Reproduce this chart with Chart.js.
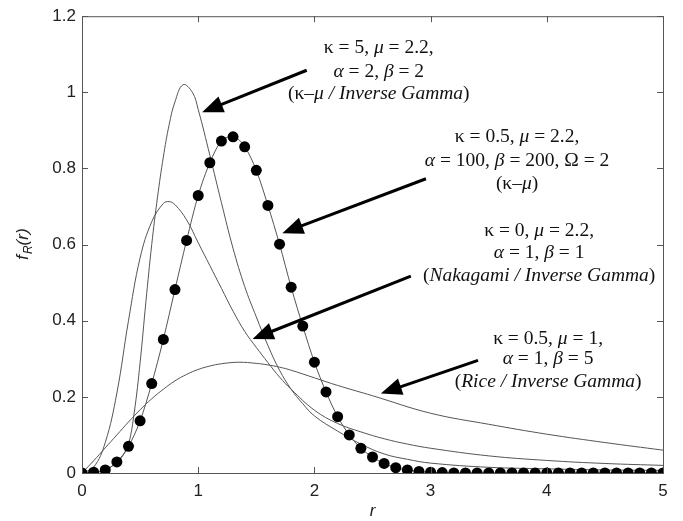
<!DOCTYPE html>
<html>
<head>
<meta charset="utf-8">
<script src="https://cdn.jsdelivr.net/npm/chart.js@4.4.1/dist/chart.umd.min.js"></script>
<style>
  html, body { margin: 0; padding: 0; background: #fff; }
  #wrap { width: 683px; height: 521px; }
</style>
</head>
<body>
<div id="wrap"><canvas id="c" width="683" height="521"></canvas></div>
<script>
// ---- data ----
var xTicks = [0, 1, 2, 3, 4, 5];
var yTicks = [0, 0.2, 0.4, 0.6, 0.8, 1, 1.2];

// kappa-mu (dots), kappa = 0.5, mu = 2.2, Omega = 2
var rDots = [0, 0.1, 0.2, 0.3, 0.4, 0.5, 0.6, 0.7, 0.8, 0.9, 1.0, 1.1, 1.2, 1.3, 1.4, 1.5, 1.6, 1.7, 1.8, 1.9,
	2.0, 2.1, 2.2, 2.3, 2.4, 2.5, 2.6, 2.7, 2.8, 2.9, 3.0, 3.1, 3.2, 3.3, 3.4, 3.5, 3.6, 3.7, 3.8, 3.9,
	4.0, 4.1, 4.2, 4.3, 4.4, 4.5, 4.6, 4.7, 4.8, 4.9, 5.0];
var fDots = [0, 0.002, 0.008, 0.029, 0.07, 0.137, 0.235, 0.351, 0.482, 0.611, 0.729, 0.815, 0.872, 0.883, 0.857, 0.795, 0.703, 0.601, 0.488, 0.386,
	0.291, 0.213, 0.148, 0.100, 0.065, 0.042, 0.025, 0.014, 0.008, 0.004, 0.002, 0.001, 0, 0, 0, 0, 0, 0, 0, 0,
	0, 0, 0, 0, 0, 0, 0, 0, 0, 0, 0];

// kappa-mu / inverse gamma, kappa = 5
var rKm = [0, 0.1, 0.2, 0.3, 0.35, 0.4, 0.45, 0.5, 0.55, 0.6, 0.65, 0.7, 0.75, 0.8, 0.87, 0.95, 1.0, 1.1, 1.2, 1.3, 1.4,
	1.5, 1.6, 1.7, 1.8, 1.9, 2.0, 2.2, 2.4, 2.6, 2.8, 3.0, 3.5, 4.0, 4.5, 5.0];
var fKm = [0, 0.001, 0.008, 0.028, 0.045, 0.075, 0.16, 0.29, 0.45, 0.6, 0.725, 0.83, 0.915, 0.975, 1.02, 1.0, 0.955, 0.835, 0.71, 0.59, 0.49,
	0.41, 0.335, 0.27, 0.22, 0.182, 0.15, 0.11, 0.076, 0.05, 0.036, 0.026, 0.015, 0.011, 0.008, 0.007];

// Nakagami / inverse gamma
var rNak = [0, 0.1, 0.2, 0.3, 0.4, 0.5, 0.6, 0.7, 0.75, 0.8, 0.9, 1.0, 1.1, 1.2, 1.3, 1.4, 1.5, 1.6, 1.7, 1.8,
	2.0, 2.2, 2.4, 2.6, 2.8, 3.0, 3.5, 4.0, 4.5, 5.0];
var fNak = [0, 0.015, 0.08, 0.21, 0.4, 0.565, 0.66, 0.708, 0.713, 0.705, 0.665, 0.605, 0.545, 0.485, 0.425, 0.372, 0.33, 0.29, 0.252, 0.22,
	0.165, 0.13, 0.108, 0.09, 0.076, 0.065, 0.045, 0.033, 0.025, 0.02];

// Rice / inverse gamma
var rRice = [0, 0.1, 0.2, 0.3, 0.4, 0.5, 0.6, 0.7, 0.8, 0.9, 1.0, 1.1, 1.2, 1.35, 1.5, 1.6, 1.7, 1.8,
	2.0, 2.2, 2.5, 3.0, 3.5, 4.0, 4.5, 5.0];
var fRice = [0, 0.032, 0.066, 0.1, 0.134, 0.166, 0.195, 0.22, 0.242, 0.259, 0.272, 0.281, 0.287, 0.291, 0.288, 0.284, 0.278, 0.27,
	0.25, 0.23, 0.203, 0.157, 0.128, 0.102, 0.08, 0.06];

// labels: *...* toggles italic; arrow goes from tail to tip (data units)
var notes = [
	{ cx: 2.554, lines: ["κ = 5, *μ* = 2.2,", "*α* = 2, *β* = 2", "(κ–*μ / Inverse Gamma*)"], ys: [1.117, 1.055, 0.995],
	  tail: [1.934, 1.058], tip: [1.034, 0.948] },
	{ cx: 3.744, lines: ["κ = 0.5, *μ* = 2.2,", "*α* = 100, *β* = 200, Ω = 2", "(κ–*μ*)"], ys: [0.883, 0.820, 0.760],
	  tail: [2.96, 0.773], tip: [1.724, 0.630] },
	{ cx: 3.934, lines: ["κ = 0, *μ* = 2.2,", "*α* = 1, *β* = 1", "(*Nakagami / Inverse Gamma*)"], ys: [0.635, 0.577, 0.517],
	  tail: [2.83, 0.517], tip: [1.468, 0.352] },
	{ cx: 4.011, lines: ["κ = 0.5, *μ* = 1,", "*α* = 1, *β* = 5", "(*Rice / Inverse Gamma*)"], ys: [0.353, 0.301, 0.239],
	  tail: [3.408, 0.296], tip: [2.572, 0.209] }
];

function pts(rs, fs) {
	return rs.map(function (r, i) { return { x: r, y: fs[i] }; });
}

function drawRich(ctx, str, cx, cy) {
	var parts = str.split('*');
	var fonts = parts.map(function (p, i) { return (i % 2 ? 'italic ' : '') + '19.5px "Liberation Serif", serif'; });
	var widths = parts.map(function (p, i) { ctx.font = fonts[i]; return ctx.measureText(p).width; });
	var total = widths.reduce(function (a, b) { return a + b; }, 0);
	var x = cx - total / 2;
	ctx.textAlign = 'left';
	ctx.textBaseline = 'middle';
	parts.forEach(function (p, i) {
		ctx.font = fonts[i];
		ctx.fillText(p, x, cy);
		x += widths[i];
	});
}

function drawArrow(ctx, x0, y0, x1, y1) {
	var a = Math.atan2(y1 - y0, x1 - x0);
	var L = 21, W = 8.5;
	var bx = x1 - L * Math.cos(a), by = y1 - L * Math.sin(a);
	ctx.lineWidth = 3;
	ctx.beginPath();
	ctx.moveTo(x0, y0);
	ctx.lineTo(bx + 2 * Math.cos(a), by + 2 * Math.sin(a));
	ctx.stroke();
	ctx.beginPath();
	ctx.moveTo(x1, y1);
	ctx.lineTo(bx + W * Math.sin(a), by - W * Math.cos(a));
	ctx.lineTo(bx - W * Math.sin(a), by + W * Math.cos(a));
	ctx.closePath();
	ctx.fill();
}

var frame = {
	id: 'frame',
	afterDraw: function (chart) {
		var ctx = chart.ctx, a = chart.chartArea;
		var sx = chart.scales.x, sy = chart.scales.y;
		ctx.save();
		// box + inward ticks, matlab style
		ctx.strokeStyle = '#555';
		ctx.lineWidth = 1;
		ctx.strokeRect(a.left + 0.5, a.top + 0.5, a.right - a.left, a.bottom - a.top);
		ctx.beginPath();
		xTicks.forEach(function (v) {
			var px = Math.round(sx.getPixelForValue(v)) + 0.5;
			ctx.moveTo(px, a.bottom); ctx.lineTo(px, a.bottom - 6);
			ctx.moveTo(px, a.top); ctx.lineTo(px, a.top + 6);
		});
		yTicks.forEach(function (v) {
			var py = Math.round(sy.getPixelForValue(v)) + 0.5;
			ctx.moveTo(a.left, py); ctx.lineTo(a.left + 6, py);
			ctx.moveTo(a.right, py); ctx.lineTo(a.right - 6, py);
		});
		ctx.stroke();

		// annotations
		ctx.strokeStyle = '#000';
		notes.forEach(function (n) {
			var cx = sx.getPixelForValue(n.cx);
			ctx.fillStyle = '#111';
			n.lines.forEach(function (t, i) {
				drawRich(ctx, t, cx, sy.getPixelForValue(n.ys[i]));
			});
			ctx.fillStyle = '#000';
			drawArrow(ctx, sx.getPixelForValue(n.tail[0]), sy.getPixelForValue(n.tail[1]),
				sx.getPixelForValue(n.tip[0]), sy.getPixelForValue(n.tip[1]));
		});

		// axis titles
		ctx.fillStyle = '#222';
		ctx.textBaseline = 'middle';
		ctx.textAlign = 'center';
		ctx.font = 'italic 17px "Liberation Sans", sans-serif';
		ctx.fillText('r', (a.left + a.right) / 2, 511);

		ctx.translate(22, (a.top + a.bottom) / 2);
		ctx.rotate(-Math.PI / 2);
		ctx.textAlign = 'left';
		ctx.textBaseline = 'alphabetic';
		var w1, w2, w3;
		ctx.font = 'italic 17px "Liberation Sans", sans-serif';
		w1 = ctx.measureText('f').width;
		w3 = ctx.measureText('(r)').width;
		ctx.font = 'italic 12px "Liberation Sans", sans-serif';
		w2 = ctx.measureText('R').width;
		var x = -(w1 + w2 + w3) / 2;
		ctx.font = 'italic 17px "Liberation Sans", sans-serif';
		ctx.fillText('f', x, 6);
		ctx.font = 'italic 12px "Liberation Sans", sans-serif';
		ctx.fillText('R', x + w1 + 1, 10);
		ctx.font = 'italic 17px "Liberation Sans", sans-serif';
		ctx.fillText('(r)', x + w1 + w2 + 1, 6);
		ctx.restore();
	}
};

var thin = { borderColor: '#555', borderWidth: 1, pointRadius: 0, tension: 0.4, fill: false };

new Chart(document.getElementById('c'), {
	type: 'line',
	data: {
		datasets: [
			{ label: 'κ-μ', data: pts(rDots, fDots), borderColor: '#555', borderWidth: 1, cubicInterpolationMode: 'monotone',
			  pointRadius: 5.5, pointBackgroundColor: '#000', pointBorderColor: '#000', pointBorderWidth: 0, fill: false },
			Object.assign({ label: 'κ-μ / IG', data: pts(rKm, fKm) }, thin),
			Object.assign({ label: 'Nakagami / IG', data: pts(rNak, fNak) }, thin),
			Object.assign({ label: 'Rice / IG', data: pts(rRice, fRice) }, thin)
		]
	},
	options: {
		responsive: false,
		animation: false,
		events: [],
		layout: { padding: { top: 13, right: 20, left: 0, bottom: 0 } },
		plugins: { legend: { display: false }, tooltip: { enabled: false } },
		scales: {
			x: {
				type: 'linear', min: 0, max: 5,
				afterFit: function (s) { s.height = 48; },
				afterBuildTicks: function (s) { s.ticks = xTicks.map(function (v) { return { value: v }; }); },
				grid: { display: false, drawTicks: false },
				border: { display: false },
				ticks: { padding: 8, color: '#222', font: { family: '"Liberation Sans", sans-serif', size: 17 }, maxRotation: 0 }
			},
			y: {
				type: 'linear', min: 0, max: 1.2,
				afterFit: function (s) { s.width = 82; },
				afterBuildTicks: function (s) { s.ticks = yTicks.map(function (v) { return { value: v }; }); },
				grid: { display: false, drawTicks: false },
				border: { display: false },
				ticks: { padding: 6, color: '#222', font: { family: '"Liberation Sans", sans-serif', size: 17 },
					callback: function (v) { return String(+v.toFixed(1)); } }
			}
		}
	},
	plugins: [frame]
});
</script>
</body>
</html>
